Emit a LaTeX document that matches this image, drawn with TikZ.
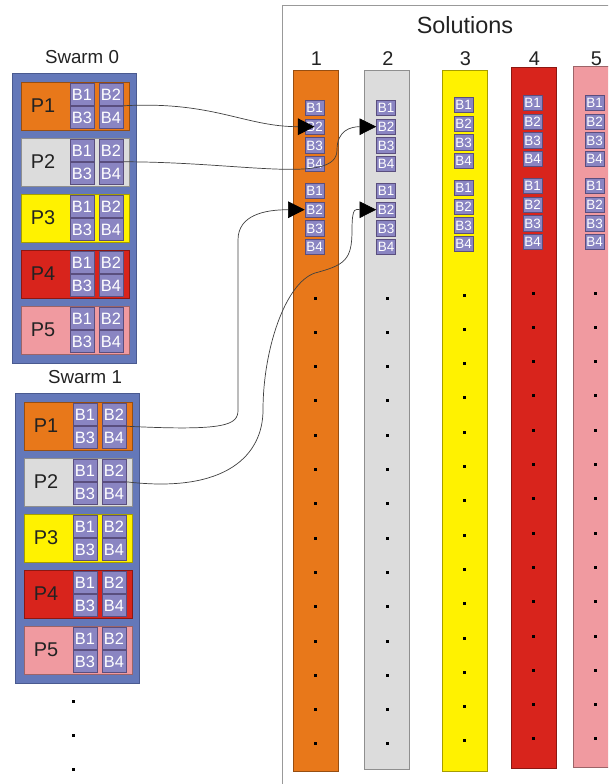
\documentclass[tikz,border=0pt]{standalone}
\usepackage{fontspec}
\setmainfont{Liberation Sans}
\usetikzlibrary{arrows.meta}
\definecolor{txt}{HTML}{222222}
\definecolor{swarmblue}{HTML}{6478B9}
\definecolor{swarmedge}{HTML}{4A5A90}
\definecolor{bfill}{HTML}{8A85C2}
\definecolor{bedge}{HTML}{5A4E7E}
\definecolor{porange}{HTML}{E8781A}
\definecolor{pgray}{HTML}{DCDCDC}
\definecolor{pyellow}{HTML}{FFF200}
\definecolor{pred}{HTML}{D8241C}
\definecolor{ppink}{HTML}{F09AA0}
\begin{document}
\begin{tikzpicture}[x=0.03cm,y=-0.03cm,
  every node/.style={text=txt},
  swarmbox/.style={draw=swarmedge,fill=swarmblue,line width=0.8pt,minimum width=3.72cm,minimum height=8.7cm,inner sep=0pt},
  prow/.style={draw=#1!65!black,fill=#1,line width=0.4pt,minimum width=3.24cm,minimum height=1.44cm,inner sep=0pt},
  bcell/.style={draw=bedge,fill=bfill,line width=0.5pt,minimum width=0.72cm,minimum height=0.66cm,inner sep=0pt,text=white,font=\fontsize{14}{14}\selectfont},
  solcol/.style={draw=#1!65!black,fill=#1,line width=0.5pt,minimum width=1.35cm,inner sep=0pt},
  sbcell/.style={draw=bedge,fill=bfill,line width=0.5pt,minimum width=0.57cm,minimum height=0.46cm,inner sep=0pt,text=white,font=\fontsize{11.5}{11.5}\selectfont},
  link/.style={draw=black!75,line width=0.6pt,-{Triangle[length=0.5cm,width=0.5cm,black]}}]
  \useasboundingbox (0,0) rectangle (608,784);
  \clip (0,0) rectangle (608,784);
  % swarms with their particles
  \foreach \s/\dx/\dy in {0/0/0,1/3/320}{
    \begin{scope}[shift={(\dx,\dy)}]
      \node[swarmbox] (sw\s) at (74,218) {};
      \node[font=\fontsize{16}{16}\selectfont] (sw\s-lab) at (82,57) {Swarm \s};
      \foreach \p/\colr [count=\i from 0] in {1/porange,2/pgray,3/pyellow,4/pred,5/ppink}{
        \node[prow=\colr] (s\s-p\p) at (75,{106+56*\i}) {};
        \node[font=\fontsize{17}{17}\selectfont] (s\s-p\p-lab) at (43,{106+56*\i}) {P\p};
        \node[bcell] (s\s-p\p-b1) at (82,{94.5+56*\i}) {B1};
        \node[bcell] (s\s-p\p-b2) at (111,{94.5+56*\i}) {B2};
        \node[bcell] (s\s-p\p-b3) at (82,{117.5+56*\i}) {B3};
        \node[bcell] (s\s-p\p-b4) at (111,{117.5+56*\i}) {B4};
      }
    \end{scope}
  }
  \fill[black] (71.5,699.5) rectangle ++(3,3); % more swarms
  \fill[black] (71.5,733.5) rectangle ++(3,3);
  \fill[black] (71.5,767.5) rectangle ++(3,3);
  % solutions frame
  \draw[black!40,line width=0.8pt] (282,784) -- (282,5) -- (612,5);
  \node[font=\fontsize{20}{20}\selectfont] (soltitle) at (465,25) {Solutions};
  \foreach \c/\xc/\top/\bot/\yo/\colr in {1/315.5/70/771/0/porange,2/387/70/769/0/pgray,3/464.5/70/771/-3/pyellow,4/533.5/67/768/-5/pred,5/595.5/66/767/-5/ppink}{
    \node[solcol=\colr,minimum height={(\bot-\top)*0.8536pt}] (col\c) at (\xc,{(\top+\bot)/2}) {};
    \node[font=\fontsize{17}{17}\selectfont] (num\c) at ({\xc+1},59) {\c};
    \foreach \g in {1,2}{
      \foreach \b in {1,2,3,4}{
        \node[sbcell] (c\c-g\g-b\b) at ({\xc-1},{108+\yo+18.7*(\b-1)+83*(\g-1)}) {B\b};
      }
    }
    \foreach \k in {0,...,13}{
      \fill[black] ({\xc-1.5},{296.5+\yo+34.3*\k}) rectangle ++(3,3); % dots
    }
  }
  % links swarm 0
  \draw[link] (s0-p1-b2.south east) .. controls +(90,-5) and +(-70,0) .. (c1-g1-b2.center);
  \coordinate (k2) at (337,150);
  \draw[link] (s0-p2-b2.south east) .. controls +(120,0) and +(0,35) .. (k2)
    .. controls +(0,-20) and +(-25,0) .. (c2-g1-b2.west);
  % links swarm 1
  \coordinate (k3a) at (238,410);
  \coordinate (k3b) at (238,240);
  \draw[link] (s1-p1-b4.north east) .. controls +(100,5) and +(0,15) .. (k3a) -- (k3b)
    .. controls +(0,-25) and +(-40,0) .. (c1-g2-b2.west);
  \coordinate (k4a) at (263,410);
  \coordinate (k4b) at (315,273);
  \coordinate (k4c) at (352,230);
  \draw[link] (s1-p2-b2.south east) .. controls +(100,12) and +(0,45) .. (k4a)
    .. controls +(0,-60) and +(-30,10) .. (k4b)
    .. controls +(30,-8) and +(0,30) .. (k4c)
    .. controls +(0,-25) and +(-20,0) .. (c2-g2-b2.west);
\end{tikzpicture}
\end{document}
